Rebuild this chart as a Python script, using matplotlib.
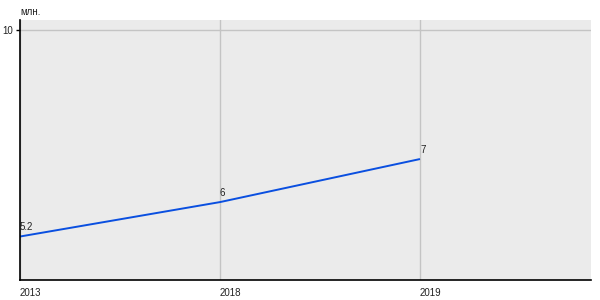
import matplotlib
matplotlib.use("Agg")
import matplotlib.pyplot as plt

years = ["2013", "2018", "2019"]
values = [5.2, 6, 7]
value_labels = ["5.2", "6", "7"]

plt.rcParams['font.family'] = ['Liberation Sans', 'DejaVu Sans']

fig = plt.figure(figsize=(6, 3), dpi=100)
ax = fig.add_axes([20 / 600, 20 / 300, 571 / 600, 260 / 300])
ax.set_facecolor("#ebebeb")

xs = list(range(len(years)))
ax.plot(xs, values, color="#0a4fe0", linewidth=1.4, solid_capstyle="butt")
for x, v, lab in zip(xs, values, value_labels):
    ax.annotate(lab, (x, v), xytext=(0, 3), textcoords="offset points",
                ha="left", va="bottom", fontsize=7, color="#222222")

ax.set_xlim(0, 2.855)
ax.set_ylim(4.19, 10.23)
ax.set_xticks(xs)
ax.set_xticklabels(years, ha="left", fontsize=7, color="#222222")
ax.set_yticks([10])
ax.set_yticklabels(["10"], fontsize=7, color="#222222")
ax.tick_params(axis="x", length=0, pad=6)
ax.tick_params(axis="y", length=3, width=1, direction="out", pad=2)
ax.grid(True, color="#c4c4c4", linewidth=1)
ax.set_axisbelow(True)
for s in ["top", "right"]:
    ax.spines[s].set_visible(False)
for s in ["left", "bottom"]:
    ax.spines[s].set_color("black")
    ax.spines[s].set_linewidth(1.2)

fig.text(20 / 600, 1 - 12 / 300, "млн.", fontsize=7, color="#222222",
         ha="left", va="center")

fig.savefig("out.png", dpi=100)
